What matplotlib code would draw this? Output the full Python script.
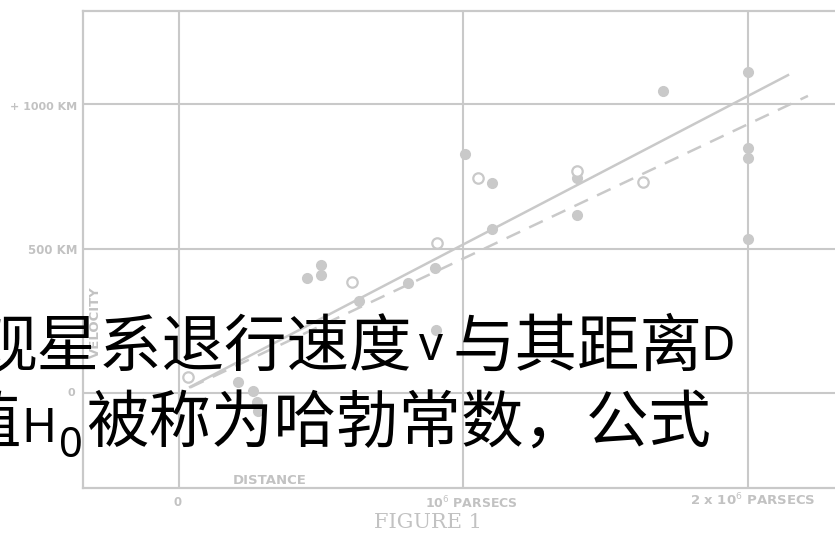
import matplotlib
matplotlib.use("Agg")
import matplotlib.pyplot as plt

# Galaxy velocity-distance data (distance in 10^6 parsecs, velocity in km/s)
filled_dist = [2.0, 1.70, 2.0, 2.0, 2.0, 1.005, 1.10, 1.10, 1.40, 1.40, 0.905,
               0.50, 0.50, 0.45, 0.634, 0.806, 0.90, 0.21, 0.26, 0.275, 0.28]
filled_vel = [1112, 1046, 849, 814, 533, 828, 727, 568, 617, 745, 218,
              443, 409, 398, 319, 381, 433, 38, 7, -31, -62]

open_dist = [1.05, 1.63, 0.907, 0.61, 0.033, 1.40]
open_vel = [745, 731, 520, 384, 55, 770]

# Fitted relations
solid_dist = [0.04, 2.14]
solid_vel = [21, 1101]
dashed_dist = [0.04, 2.21]
dashed_vel = [19, 1029]

grid_x = [0, 1, 2]
grid_y = [0, 500, 1000]

W, H = 835, 534
GRAY = "#c9c9c9"
LABEL_GRAY = "#c2c2c2"

fig = plt.figure(figsize=(W / 100, H / 100), dpi=100)
fig.patch.set_facecolor("white")


def px(x, y):
    return x / W, 1 - y / H


ax = fig.add_axes([83 / W, (H - 488) / H, (W - 83) / W, (488 - 11) / H])
ax.set_xlim(-0.336, 2.305)
ax.set_ylim(-329, 1323)
ax.set_xticks([])
ax.set_yticks([])
for side, sp in ax.spines.items():
    sp.set_color(GRAY)
    sp.set_linewidth(1.6)
ax.spines["right"].set_visible(False)

for gx in grid_x:
    ax.axvline(gx, color=GRAY, lw=1.5, zorder=1)
for gy in grid_y:
    ax.axhline(gy, color=GRAY, lw=1.5, zorder=1)

ax.plot(solid_dist, solid_vel, color=GRAY, lw=1.8, zorder=2)
ax.plot(dashed_dist, dashed_vel, color=GRAY, lw=1.8, dashes=(6, 4), zorder=2)

ax.plot(filled_dist, filled_vel, "o", color=GRAY, ms=7, mec=GRAY, zorder=3)
ax.plot(open_dist, open_vel, "o", mfc="white", mec=GRAY, mew=1.6, ms=7.5, zorder=3)

# Figure annotations
lab = dict(color=LABEL_GRAY, fontweight="bold", family="DejaVu Sans")
fig.text(*px(77, 107), "+ 1000 KM", ha="right", va="center", fontsize=8, **lab)
fig.text(*px(77, 250), "500 KM", ha="right", va="center", fontsize=8.5, **lab)
fig.text(*px(71, 393), "0", ha="center", va="center", fontsize=8, **lab)
fig.text(*px(95, 322), "VELOCITY", ha="center", va="center", rotation=90,
         fontsize=9.5, **lab)
fig.text(*px(270, 481), "DISTANCE", ha="center", va="center", fontsize=9.5, **lab)
fig.text(*px(178, 503), "0", ha="center", va="center", fontsize=8.5, **lab)
fig.text(*px(425, 503), r"10$^{6}$ PARSECS", ha="left", va="center",
         fontsize=9, **lab)
fig.text(*px(690, 500), r"2 x 10$^{6}$ PARSECS", ha="left", va="center",
         fontsize=9.5, **lab)
fig.text(*px(428, 528), "FIGURE 1", ha="center", va="baseline", fontsize=15,
         color=LABEL_GRAY, family="DejaVu Serif")

# Caption text overlaid on the diagram
cjk = dict(family=["Noto Sans CJK SC", "DejaVu Sans"], fontsize=45,
           color="black", va="baseline", ha="left")
lat = dict(family=["Noto Sans", "DejaVu Sans"], fontsize=34, color="black",
           va="baseline", ha="left")

fig.text(*px(-25, 366), "观星系退行速度", **cjk)
fig.text(*px(419, 360), "v", **lat)
fig.text(*px(452, 366), "与其距离", **cjk)
fig.text(*px(700, 360), "D", **lat)

fig.text(*px(-42, 443), "值", **cjk)
fig.text(*px(21, 442), "H", **lat)
fig.text(*px(59, 457), "0", **dict(lat, fontsize=30))
fig.text(*px(86, 443), "被称为哈勃常数，公式", **cjk)

fig.savefig("out.png", dpi=100)
